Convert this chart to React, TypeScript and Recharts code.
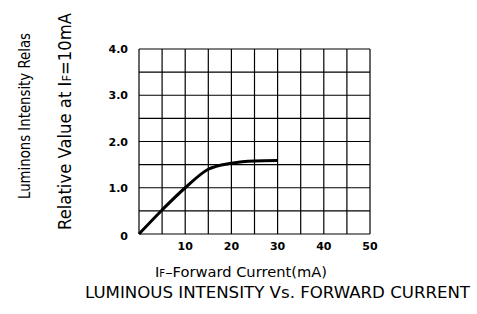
import React from "react";
import { LineChart, Line, XAxis, YAxis, CartesianGrid } from "recharts";

// forward current (mA) vs relative luminous intensity
const currents = [0, 5, 10, 15, 20, 25, 30];
const intensity = [0, 0.52, 1.0, 1.4, 1.53, 1.58, 1.59];

const xTicks = [0, 5, 10, 15, 20, 25, 30, 35, 40, 45, 50];
const yTicks = [0, 0.5, 1, 1.5, 2, 2.5, 3, 3.5, 4];

const yLabelTop = "Luminons Intensity Relas";
const yLabelBottom = ["Relative Value at I", "F", "=10mA"];
const xLabel = ["I", "F", "–Forward Current(mA)"];
const title = "LUMINOUS INTENSITY Vs. FORWARD CURRENT";

const data = currents.map((c, i) => ({ current: c, value: intensity[i] }));

const tickFont = { fontFamily: "DejaVu Sans", fontSize: 11, fontWeight: 700, fill: "#000" };
const labelFont = { fontFamily: "DejaVu Sans", fill: "#000" };

function XTick(props: any) {
  const v = props.payload.value;
  if (v === 0 || v % 10 !== 0) return null;
  return (
    <text x={props.x} y={props.y} dy={8} textAnchor="middle" {...tickFont}>
      {v}
    </text>
  );
}

function YTick(props: any) {
  const v = props.payload.value;
  if (v % 1 !== 0) return null;
  return (
    <text x={props.x} y={props.y} dy={v === 0 ? 6 : 4} textAnchor="end" {...tickFont}>
      {v === 0 ? "0" : v.toFixed(1)}
    </text>
  );
}

export default function App() {
  return (
    <div style={{ position: "absolute", left: 0, top: 0, width: 477, height: 314, background: "#fff" }}>
      <LineChart width={477} height={314} data={data} margin={{ top: 49, right: 107, bottom: 50, left: 99 }}>
        <CartesianGrid stroke="#000" strokeWidth={1.2} />
        <XAxis
          dataKey="current"
          type="number"
          domain={[0, 50]}
          ticks={xTicks}
          axisLine={false}
          tickLine={false}
          height={30}
          tick={<XTick />}
          interval={0}
        />
        <YAxis
          type="number"
          domain={[0, 4]}
          ticks={yTicks}
          axisLine={false}
          tickLine={false}
          width={40}
          tickMargin={5}
          tick={<YTick />}
          interval={0}
        />
        <Line
          type="monotone"
          dataKey="value"
          stroke="#000"
          strokeWidth={3}
          dot={false}
          isAnimationActive={false}
        />
      </LineChart>
      <svg width={477} height={314} style={{ position: "absolute", left: 0, top: 0, pointerEvents: "none" }}>
        <text
          transform="translate(30,116) rotate(-90)"
          textAnchor="middle"
          textLength={166}
          lengthAdjust="spacingAndGlyphs"
          fontSize={16}
          {...labelFont}
        >
          {yLabelTop}
        </text>
        <text
          transform="translate(71,121.5) rotate(-90)"
          textAnchor="middle"
          textLength={217}
          lengthAdjust="spacingAndGlyphs"
          fontSize={17}
          {...labelFont}
        >
          {yLabelBottom[0]}
          <tspan fontSize={12}>{yLabelBottom[1]}</tspan>
          {yLabelBottom[2]}
        </text>
        <text
          x={241}
          y={277}
          textAnchor="middle"
          textLength={172}
          lengthAdjust="spacingAndGlyphs"
          fontSize={14.5}
          {...labelFont}
        >
          {xLabel[0]}
          <tspan fontSize={10}>{xLabel[1]}</tspan>
          {xLabel[2]}
        </text>
        <text
          x={277.5}
          y={298}
          textAnchor="middle"
          textLength={385}
          lengthAdjust="spacingAndGlyphs"
          fontSize={16}
          {...labelFont}
        >
          {title}
        </text>
      </svg>
    </div>
  );
}
